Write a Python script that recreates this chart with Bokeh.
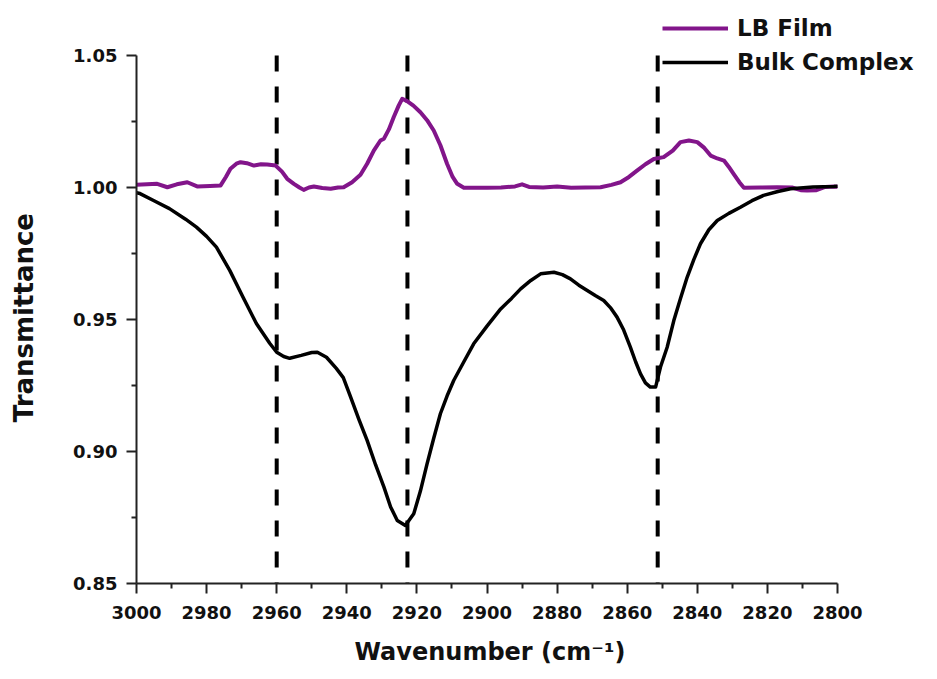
from bokeh.plotting import figure
from bokeh.models import Range1d, FixedTicker, Legend, LegendItem, NumeralTickFormatter, Title
from bokeh.embed import file_html
from bokeh.resources import INLINE

# FTIR spectra in the C-H stretching region
lb_wavenumber = [3000, 2997, 2994.1, 2991.2, 2988.5, 2985.5, 2982.7, 2979, 2976, 2974.5,
                 2973.2, 2971.5, 2970.3, 2968.5, 2966.5, 2964.5, 2962.7, 2960.3, 2958.5, 2957,
                 2955.1, 2953.5, 2952.3, 2950.8, 2949.4, 2947, 2944.6, 2942.5, 2940.9, 2938.5,
                 2936.1, 2934.2, 2932.3, 2930.4, 2929.4, 2928, 2926.6, 2925.2, 2924.2, 2922.8,
                 2921, 2919, 2917.1, 2915.2, 2913.3, 2911.4, 2909.8, 2908.5, 2906.6, 2900,
                 2896, 2892, 2890, 2888, 2884, 2880, 2876, 2872, 2867.6, 2864.5,
                 2861.9, 2859.5, 2857.2, 2854.8, 2852.4, 2849.6, 2847, 2844.8, 2842.4, 2840,
                 2838, 2836.2, 2834.3, 2832.4, 2831, 2829.6, 2828, 2826.7, 2822, 2817.2,
                 2813, 2810.5, 2808.7, 2806, 2803.5, 2801, 2800]
lb_transmittance = [1.0010, 1.0012, 1.0014, 1.0001, 1.0012, 1.0020, 1.0004, 1.0006, 1.0008, 1.0040,
                    1.0071, 1.0090, 1.0096, 1.0092, 1.0083, 1.0088, 1.0087, 1.0083, 1.0060, 1.0033,
                    1.0014, 1.0000, 0.9991, 1.0000, 1.0004, 0.9998, 0.9995, 1.0000, 1.0001, 1.0020,
                    1.0048, 1.0090, 1.0140, 1.0178, 1.0185, 1.0220, 1.0267, 1.0310, 1.0336, 1.0327,
                    1.0310, 1.0285, 1.0255, 1.0216, 1.0160, 1.0090, 1.0040, 1.0014, 0.9999, 0.9999,
                    1.0000, 1.0004, 1.0012, 1.0002, 1.0000, 1.0004, 0.9999, 1.0000, 1.0001, 1.0010,
                    1.0020, 1.0040, 1.0064, 1.0088, 1.0108, 1.0115, 1.0140, 1.0172, 1.0178, 1.0172,
                    1.0150, 1.0121, 1.0110, 1.0102, 1.0078, 1.0051, 1.0020, 0.9999, 1.0000, 1.0001,
                    1.0000, 0.9990, 0.9989, 0.9990, 1.0002, 1.0004, 1.0003]

bulk_wavenumber = [3000, 2999, 2995, 2990.6, 2986, 2982.9, 2980, 2977.2, 2973.4, 2969.6,
                   2965.8, 2962, 2960, 2958, 2956.3, 2953, 2950, 2948.4, 2945.8, 2943,
                   2941, 2938.9, 2936.5, 2934.2, 2931.8, 2929.4, 2927.5, 2925.6, 2923.3, 2920.9,
                   2919, 2917.1, 2915.2, 2913.3, 2911.4, 2909.5, 2906.6, 2903.8, 2900, 2896.1,
                   2893, 2890.4, 2887.5, 2884.7, 2880.9, 2878.5, 2876.2, 2873.8, 2871.4, 2869,
                   2866.7, 2864.8, 2862.9, 2861, 2859.1, 2857.6, 2856.2, 2854.8, 2853.4, 2851.9,
                   2850.5, 2848.6, 2846.7, 2844.8, 2842.9, 2841, 2839.1, 2836.7, 2834.3, 2831,
                   2827.7, 2824.4, 2821.1, 2817, 2813.4, 2807, 2801, 2800]
bulk_transmittance = [0.9980, 0.9977, 0.9950, 0.9920, 0.9880, 0.9850, 0.9815, 0.9774, 0.9686, 0.9584,
                      0.9485, 0.9410, 0.9376, 0.9360, 0.9353, 0.9364, 0.9375, 0.9376, 0.9357, 0.9315,
                      0.9280, 0.9206, 0.9120, 0.9042, 0.8950, 0.8865, 0.8790, 0.8739, 0.8720, 0.8764,
                      0.8850, 0.8953, 0.9050, 0.9143, 0.9210, 0.9269, 0.9340, 0.9408, 0.9475, 0.9540,
                      0.9580, 0.9616, 0.9648, 0.9673, 0.9679, 0.9670, 0.9654, 0.9630, 0.9610, 0.9590,
                      0.9572, 0.9545, 0.9509, 0.9460, 0.9395, 0.9340, 0.9294, 0.9260, 0.9244, 0.9244,
                      0.9320, 0.9395, 0.9496, 0.9580, 0.9660, 0.9727, 0.9787, 0.9840, 0.9875, 0.9902,
                      0.9925, 0.9950, 0.9970, 0.9985, 0.9995, 1.0002, 1.0004, 1.0005]

# band positions marked with dashed lines
band_positions = [2960, 2922.7, 2851.3]

x_ticks = [3000, 2980, 2960, 2940, 2920, 2900, 2880, 2860, 2840, 2820, 2800]
x_minor = [2990, 2970, 2950, 2930, 2910, 2890, 2870, 2850, 2830, 2810]
y_ticks = [0.85, 0.90, 0.95, 1.00, 1.05]
y_minor = [0.875, 0.925, 0.975, 1.025]
x_lo, x_hi = 2800, 3000
y_lo, y_hi = 0.85, 1.05

lb_color = "#82158a"
bulk_color = "#000000"
font = "DejaVu Sans"

# axes occupy 701 x 528 px; the frame is larger (up and right) so the legend
# that overhangs the top right corner is not clipped
axis_w, axis_h = 701, 528
pad_top, pad_right = 40, 83
frame_w, frame_h = axis_w + pad_right, axis_h + pad_top
x_end = x_lo - (x_hi - x_lo) * pad_right / axis_w
y_end = y_hi + (y_hi - y_lo) * pad_top / axis_h

p = figure(frame_width=frame_w, frame_height=frame_h,
           min_border_left=136, min_border_right=937 - 136 - frame_w,
           min_border_top=55 - pad_top, min_border_bottom=96,
           x_range=Range1d(x_hi, x_end), y_range=Range1d(y_lo, y_end),
           output_backend="svg", toolbar_location=None)

p.outline_line_color = None
p.xgrid.visible = False
p.ygrid.visible = False
p.background_fill_color = "white"
p.border_fill_color = "white"

# dashed band markers spanning the axis range
p.segment(x0=band_positions, y0=[y_hi] * len(band_positions),
          x1=band_positions, y1=[y_lo] * len(band_positions),
          line_color="black", line_width=4, line_dash="16 15")

r_lb = p.line(lb_wavenumber, lb_transmittance, line_color=lb_color, line_width=4,
              line_join="round")
r_bulk = p.line(bulk_wavenumber, bulk_transmittance, line_color=bulk_color, line_width=3.5,
                line_join="round")

for ax in (p.xaxis[0], p.yaxis[0]):
    ax.axis_line_width = 2
    ax.axis_line_color = "#222222"
    ax.major_tick_line_width = 2
    ax.minor_tick_line_width = 2
    ax.major_tick_line_color = "#222222"
    ax.minor_tick_line_color = "#222222"
    ax.major_tick_in = 0
    ax.major_tick_out = 10
    ax.minor_tick_in = 0
    ax.minor_tick_out = 5
    ax.major_label_text_font = font
    ax.major_label_text_font_style = "bold"
    ax.major_label_text_font_size = "18px"
    ax.major_label_text_color = "#111111"
    ax.axis_label_text_font = font
    ax.axis_label_text_font_style = "bold"
    ax.axis_label_text_color = "#111111"

p.xaxis[0].ticker = FixedTicker(ticks=x_ticks, minor_ticks=x_minor)
p.xaxis[0].bounds = (x_lo, x_hi)
p.xaxis[0].major_label_standoff = 12
p.yaxis[0].ticker = FixedTicker(ticks=y_ticks, minor_ticks=y_minor)
p.yaxis[0].formatter = NumeralTickFormatter(format="0.00")
p.yaxis[0].bounds = (y_lo, y_hi)
p.yaxis[0].major_label_standoff = 9

# y label: trailing no-break spaces keep the word centred on the axis span
p.yaxis[0].axis_label = "Transmittance" + "\u00a0" * 4
p.yaxis[0].axis_label_text_font_size = "26px"
p.yaxis[0].axis_label_standoff = 31

# x label as a title below the axis, aligned to the axis span
x_title = Title(text="Wavenumber (cm⁻¹)", align="left", offset=218,
                vertical_align="bottom", standoff=28,
                text_font=font, text_font_style="bold", text_font_size="24px",
                text_color="#111111")
p.add_layout(x_title, "below")

legend = Legend(items=[LegendItem(label="LB Film", renderers=[r_lb]),
                       LegendItem(label="Bulk Complex", renderers=[r_bulk])],
                location=(526, 508), padding=0, margin=0, spacing=8,
                glyph_width=66, glyph_height=26, label_height=26, label_standoff=9,
                label_text_font=font, label_text_font_style="bold",
                label_text_font_size="23px", label_text_color="#111111",
                border_line_color=None, background_fill_alpha=0)
p.add_layout(legend, "center")

open("out.html", "w").write(file_html(p, INLINE))
